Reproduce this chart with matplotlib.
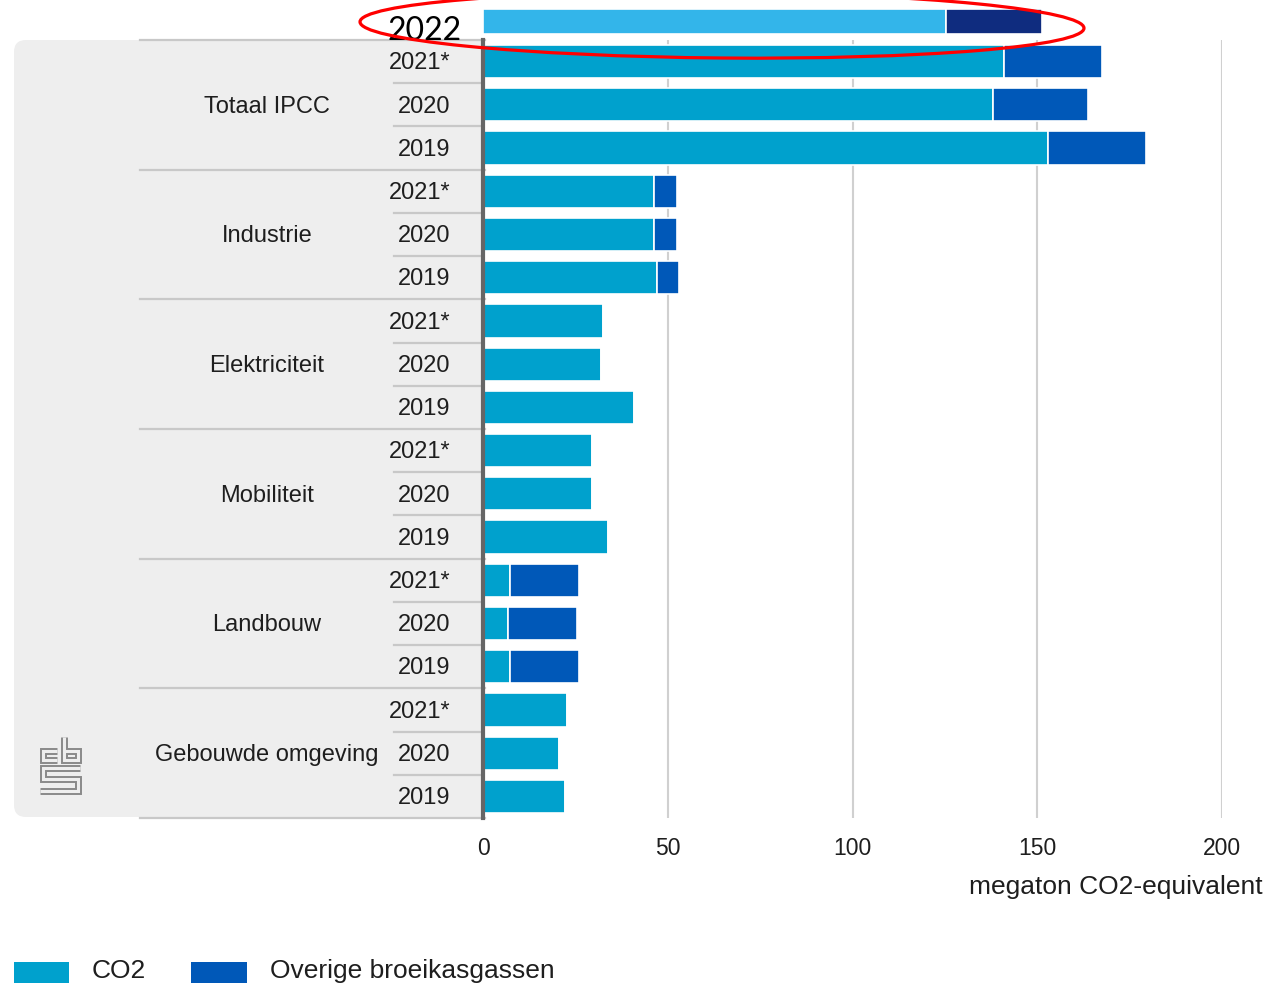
import numpy as np
import matplotlib
matplotlib.use("Agg")
import matplotlib.pyplot as plt
import matplotlib.transforms as mtransforms
from matplotlib.patches import FancyBboxPatch, Rectangle, Ellipse

plt.rcParams['font.family'] = ['Liberation Sans', 'DejaVu Sans']

# uitstoot per sector (megaton CO2-equivalent), rijen van boven naar beneden
sectoren = ["Totaal IPCC", "Industrie", "Elektriciteit", "Mobiliteit", "Landbouw", "Gebouwde omgeving"]
jaren = ["2021*", "2020", "2019"]
co2 = [140.9, 137.9, 152.9,
       46.3, 46.3, 47.1,
       32.5, 31.9, 40.9,
       29.5, 29.5, 33.8,
       7.3, 6.8, 7.3,
       22.7, 20.6, 22.2]
overig = [26.5, 25.8, 26.5,
          6.2, 6.2, 5.9,
          0, 0, 0,
          0, 0, 0,
          18.7, 18.6, 18.7,
          0, 0, 0]
# voorlopige cijfers 2022 (totaal)
co2_2022 = 125.3
overig_2022 = 26.0

xticks = [0, 50, 100, 150, 200]

C_CO2 = '#00a1cd'
C_OVERIG = '#0058b8'
C_CO2_22 = '#33b5ea'
C_OVERIG_22 = '#0f2c7f'
PANEEL = '#eeeeee'
LIJN = '#c8c8c8'
TEKST = '#1e1e1e'

W, H = 1270, 983
fig = plt.figure(figsize=(W / 100, H / 100), dpi=100)
# transformatie in pixels, oorsprong linksboven
px = mtransforms.Affine2D().scale(1 / W, -1 / H).translate(0, 1) + fig.transFigure

x0, x1, ytop, ybot = 483, 1222, 40, 818
ax = fig.add_axes([x0 / W, 1 - ybot / H, (x1 - x0) / W, (ybot - ytop) / H])

n = len(co2)
rij = np.arange(n)
ax.barh(rij, co2, height=0.77, color=C_CO2, edgecolor='white', linewidth=1.2, zorder=3)
ax.barh(rij, overig, left=co2, height=0.77, color=C_OVERIG, edgecolor='white', linewidth=1.2, zorder=3)

# balk 2022 boven de grafiek
y22 = -0.926
ax.barh([y22], [co2_2022], height=0.58, color=C_CO2_22, edgecolor='white', linewidth=1.2,
        zorder=3, clip_on=False)
ax.barh([y22], [overig_2022], left=[co2_2022], height=0.58, color=C_OVERIG_22,
        edgecolor='white', linewidth=1.2, zorder=3, clip_on=False)

ax.set_xlim(0, 200)
ax.set_ylim(n - 0.5, -0.5)
ax.set_xticks(xticks)
ax.set_xticklabels([str(t) for t in xticks], fontsize=16.5, color=TEKST)
ax.tick_params(axis='x', length=0, pad=13.5)
ax.set_yticks([])
ax.grid(axis='x', color='#d0d0d0', linewidth=1.5, zorder=0)
for kant in ['top', 'right', 'bottom']:
    ax.spines[kant].set_visible(False)
ax.spines['left'].set_color('#666666')
ax.spines['left'].set_linewidth(3)
ax.spines['left'].set_zorder(5)

# grijs paneel met labels
paneel = FancyBboxPatch((14, ytop), 500, ybot - ytop - 1, boxstyle='round,pad=0,rounding_size=12',
                        facecolor=PANEEL, edgecolor='none', transform=px, zorder=-1)
fig.add_artist(paneel)

blend = mtransforms.blended_transform_factory(px, ax.transData)
for g in range(len(sectoren) + 1):
    y = g * 3 - 0.5
    ax.plot([140, 485], [y, y], color=LIJN, lw=1.6, transform=blend, clip_on=False, zorder=1)
for g, sector in enumerate(sectoren):
    for k in (1, 2):
        y = g * 3 + k - 0.5
        ax.plot([394, 483], [y, y], color=LIJN, lw=1.6, transform=blend, clip_on=False, zorder=1)
    ax.text(267, g * 3 + 1.04, sector, transform=blend, ha='center', va='center',
            fontsize=17, color=TEKST)
    for k, jaar in enumerate(jaren):
        ax.text(450, g * 3 + k + 0.04, jaar, transform=blend, ha='right', va='center',
                fontsize=17, color=TEKST)

fig.text(1263, 887, 'megaton CO2-equivalent', transform=px, ha='right', va='center',
         fontsize=19, color=TEKST)

# legenda
fig.add_artist(Rectangle((14, 962), 55, 26, facecolor=C_CO2, edgecolor='none', transform=px))
fig.text(92, 971, 'CO2', transform=px, ha='left', va='center', fontsize=19, color=TEKST)
fig.add_artist(Rectangle((191, 962), 56, 26, facecolor=C_OVERIG, edgecolor='none', transform=px))
fig.text(270, 971, 'Overige broeikasgassen', transform=px, ha='left', va='center',
         fontsize=19, color=TEKST)

# 2022 met rode ellips
fig.text(425, 31, '2022', transform=px, ha='center', va='center', fontsize=23,
         family=['Lato', 'DejaVu Sans'], color='black')
fig.add_artist(Ellipse((722, 25), 724, 66, angle=0.5, facecolor='none', edgecolor='red',
                       linewidth=2.3, transform=px, zorder=10))

# cbs-logo
logo = [
    [(57, 750.5), (42.5, 750.5), (42.5, 760), (57, 760)],
    [(64, 737), (64, 760), (77.5, 760), (77.5, 750.5), (64, 750.5)],
    [(80, 767.5), (42.5, 767.5), (42.5, 779), (77.5, 779), (77.5, 790.5), (40, 790.5)],
]
for pad in logo:
    xs, ys = zip(*pad)
    fig.add_artist(plt.Line2D(xs, ys, transform=px, color='#8a8a8a', lw=5,
                              solid_joinstyle='miter', solid_capstyle='butt'))
    fig.add_artist(plt.Line2D(xs, ys, transform=px, color=PANEEL, lw=2.2,
                              solid_joinstyle='miter', solid_capstyle='butt'))

fig.savefig('out.png', dpi=100)
